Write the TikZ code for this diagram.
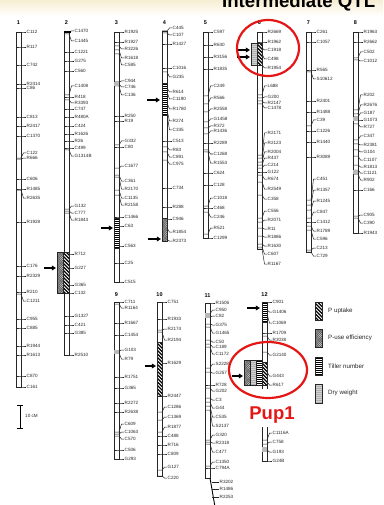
\documentclass[tikz,border=0pt]{standalone}
\usepackage{fontspec}
\setmainfont{Liberation Sans}
\usetikzlibrary{arrows.meta}

\definecolor{ringred}{RGB}{228,22,22}
\definecolor{haze}{RGB}{247,237,210}

\tikzset{
  chrline/.style={line width=0.5pt, draw=black!85},
  mklabel/.style={font=\fontsize{4.6}{5}\selectfont, anchor=west, inner sep=0pt, text=black!85},
  chrnum/.style={font=\bfseries\fontsize{5.5}{6}\selectfont, inner sep=0pt},
  qtlarrow/.style={line width=1.3pt, -{Triangle[length=4.2pt,width=4.8pt]}},
  redring/.style={draw=ringred, line width=2.2pt},
  legtext/.style={font=\fontsize{6.2}{7}\selectfont, anchor=west, inner sep=0pt, text=black!85},
}

% chromosome outline: name, left x, top y, bottom y, number, number y
\newcommand\chrom[6]{%
  \draw[chrline] (#2,#3) rectangle (#2+5,#4);
  \node[chrnum] (#1) at (#2+2.5,#6) {#5};}

% marker: left x, tick y, label y, text, node name
\newcommand\mk[5]{%
  \draw[chrline] (#1,#2) -- (#1+5,#2) -- (#1+7.5,#3) -- (#1+10,#3);
  \node[mklabel] (#5) at (#1+10.5,#3) {#4};}

% QTL boxes: x1, y1, x2, y2
\newcommand\boxpu[4]{% P uptake: heavy diagonal stripes
  \begin{scope}
    \clip (#1,#2) rectangle (#3,#4);
    \fill[white] (#1,#2) rectangle (#3,#4);
    \foreach \k in {-64,-60.5,...,12} \draw[line width=1.2pt] (#1+\k,#2) -- ++(70,70);
  \end{scope}
  \draw[chrline] (#1,#2) rectangle (#3,#4);}
\newcommand\boxpe[4]{% P-use efficiency: fine grey cross-hatch
  \begin{scope}
    \clip (#1,#2) rectangle (#3,#4);
    \fill[gray!30] (#1,#2) rectangle (#3,#4);
    \foreach \k in {-64,-62.2,...,12} \draw[gray!60!black,line width=0.3pt] (#1+\k,#2) -- ++(70,70);
    \foreach \k in {-6,-4.2,...,70} \draw[gray!60!black,line width=0.3pt] (#1+\k,#2) -- ++(-70,70);
  \end{scope}
  \draw[chrline] (#1,#2) rectangle (#3,#4);}
\newcommand\boxtn[4]{% tiller number: horizontal rules
  \begin{scope}
    \clip (#1,#2) rectangle (#3,#4);
    \fill[white] (#1,#2) rectangle (#3,#4);
    \foreach \k in {1,3,...,61} \draw[line width=0.45pt] (#1,#2+\k) -- (#3,#2+\k);
  \end{scope}
  \draw[chrline] (#1,#2) rectangle (#3,#4);}
\newcommand\boxdw[4]{% dry weight: dark grey with faint rules
  \begin{scope}
    \clip (#1,#2) rectangle (#3,#4);
    \fill[gray!62] (#1,#2) rectangle (#3,#4);
    \foreach \k in {1,3,...,61} \draw[gray!35,line width=0.4pt] (#1,#2+\k) -- (#3,#2+\k);
  \end{scope}
  \draw[chrline] (#1,#2) rectangle (#3,#4);}

\begin{document}
\begin{tikzpicture}[x=1pt,y=-1pt]
\useasboundingbox (0,0) rectangle (383,505);
\clip (0,0) rectangle (383,505);
\fill[white] (0,0) rectangle (383,505);
\shade[top color=haze, bottom color=white] (0,0) rectangle (383,16);

\node[font=\bfseries\fontsize{18.6}{20}\selectfont, anchor=base west, inner sep=0pt] (title) at (222,7.5) {Intermediate QTL};

% ---------------- chromosome 1
\chrom{n1}{16}{32}{387}{1}{23}
\foreach \ta/\la/\na in {32/32/C112, 47/47/R117, 65/65/C742, 84/84/R2414, 88/88/C86,
  117/117/C813, 126/126/R2417, 136/136/C1370, 158/153/C122, 159/158/R666, 179/179/C606,
  189/189/R1485, 190/198/R2635, 222/222/R1928, 266/266/C176, 276/276/R2329, 292/292/R210,
  294/301/C1211, 319/319/C955, 328/328/C885, 346/346/R1944, 355/355/R1613, 376/376/C870,
  387/387/C161}
  \mk{16}{\ta}{\la}{\na}{c1-\na};

% ---------------- chromosome 2
\chrom{n2}{64}{32}{355}{2}{23}
\foreach \ta/\la/\na in {32/31/C1470, 34/41/C1445, 52/52/C1221, 61/61/G275, 71/71/C560,
  95/86/C1408, 97/97/R418, 100/103/R3393, 109/109/C747, 117/117/R480A, 126/126/C424,
  134/134/R1626, 141/141/R26, 148/148/C499, 150/156/G1314B, 209/206/G132, 211/213/C777,
  213/220/R1843, 254/254/R712, 268/268/G227, 285/285/G365, 293/293/C132, 316/316/G1327,
  325/325/C421, 333/333/G385, 355/355/R2510}
  \mk{64}{\ta}{\la}{\na}{c2-\na};
\draw[line width=1.6pt] (64,32) -- (71,32);
\boxpe{57}{252}{63.5}{293}
\boxpu{63.5}{252}{69.5}{293}
\coordinate (a2s) at (44,268); \coordinate (a2e) at (56,268);
\draw[qtlarrow] (a2s) -- (a2e);

% ---------------- chromosome 3
\chrom{n3}{114}{32}{282}{3}{23}
\foreach \ta/\la/\na in {32/32/R1925, 42/42/R1927, 46/49/R3226, 50/58/R1618, 54/65/C585,
  82/81/C944, 84/87/C746, 86/95/C136, 116/116/R250, 121/121/R19, 145/141/G332, 147/147/C80,
  168/166/C1677, 175/181/C361, 177/189/R2170, 190/198/C1135, 195/205/R2158, 217/217/C1466,
  226/226/C63, 246/246/C563, 263/263/C25, 282/282/C515}
  \mk{114}{\ta}{\la}{\na}{c3-\na};
\fill[gray!55] (114,82) rectangle (119,86);
\boxtn{114}{218}{119}{248}
\coordinate (a3s) at (101,228); \coordinate (a3e) at (113,228);
\draw[qtlarrow] (a3s) -- (a3e);

% ---------------- chromosome 4
\chrom{n4}{162}{31}{241}{4}{23}
\foreach \ta/\la/\na in {31/28/C445, 33/35/C107, 44/44/R1427, 68/68/C1016, 72/77/G235,
  88/92/R614, 92/99/C1190, 103/109/R1780, 110/121/R274, 114/130/C335, 141/141/C513,
  147/150/R83, 152/157/C891, 160/164/C975, 188/188/C734, 207/207/R288, 219/219/C946,
  228/232/R1854, 240/241/R2373}
  \mk{162}{\ta}{\la}{\na}{c4-\na};
\boxtn{162}{83}{167}{115}
\boxpe{162}{218}{167}{241}
\coordinate (a4s) at (147,100); \coordinate (a4e) at (160,100);
\draw[qtlarrow] (a4s) -- (a4e);
\coordinate (a4t) at (148,239); \coordinate (a4u) at (161,239);
\draw[qtlarrow] (a4t) -- (a4u);

% ---------------- chromosome 5
\chrom{n5}{203}{32}{238}{5}{23}
\foreach \ta/\la/\na in {32/32/C597, 45/45/R630, 57/57/R3156, 69/69/R1835, 96/86/C249,
  104/98/R566, 112/109/R2558, 122/119/G1458, 128/126/R372, 134/131/R1436, 143/143/R2289,
  150/154/C1268, 152/163/R1553, 173/173/C624, 185/185/C128, 206/198/C1018, 208/208/C468,
  212/217/C246, 234/228/R521, 238/238/C1299}
  \mk{203}{\ta}{\la}{\na}{c5-\na};

% ---------------- chromosome 6
\chrom{n6}{257}{32}{249}{6}{23}
\foreach \ta/\la/\na in {32/32/R2669, 42/42/R1962, 48/50/C1918, 54/59/C498, 65/68/R1954,
  95/86/L688, 98/97/G200, 101/103/R2147, 104/108/C1478, 155/133/R2171, 158/143/R2123,
  162/152/R2004, 165/158/R437, 168/165/C214, 172/172/G122, 175/179/R674, 182/189/R2549,
  195/199/C358, 218/211/C556, 222/220/R2071, 228/229/R11, 236/237/R1886, 244/246/R1630,
  247/254/C607, 249/264/R1167}
  \mk{257}{\ta}{\la}{\na}{c6-\na};
\boxdw{251}{43}{257}{65}
\boxpu{257}{43}{262}{65}
\coordinate (a6s) at (237,50); \coordinate (a6e) at (250,50);
\draw[qtlarrow] (a6s) -- (a6e);
\coordinate (a6t) at (237,57); \coordinate (a6u) at (250,57);
\draw[qtlarrow] (a6t) -- (a6u);

% ---------------- chromosome 7
\chrom{n7}{306}{32}{252}{7}{23}
\foreach \ta/\la/\na in {32/32/C261, 42/42/C1057, 70/70/R565, 72/79/S10612, 101/101/R2401,
  112/112/R1488, 126/120/C39, 131/131/C1226, 142/142/R1440, 157/157/R3089, 200/179/C451,
  205/190/R1357, 210/201/R1245, 218/212/C847, 222/222/C1412, 226/231/R1789, 230/239/C596,
  250/248/C213, 252/256/C729}
  \mk{306}{\ta}{\la}{\na}{c7-\na};

% ---------------- chromosome 8
\chrom{n8}{353}{32}{233}{8}{23}
\foreach \ta/\la/\na in {32/32/R1963, 42/42/R2662, 58/52/C502, 60/61/C1012, 110/95/R202,
  114/105/R2676, 117/113/G187, 120/120/G1073, 124/127/R727, 140/136/C347, 144/145/R2381,
  150/152/G104, 156/160/C1107, 165/167/R1813, 170/173/C1121, 174/180/R902, 190/190/C166,
  216/215/C905, 218/223/C390, 233/233/R1943}
  \mk{353}{\ta}{\la}{\na}{c8-\na};
\fill[gray!55] (353,117) rectangle (358,121);
\fill[gray!55] (353,170) rectangle (358,174);

% ---------------- chromosome 9
\chrom{n9}{114}{302}{459}{9}{295}
\foreach \ta/\la/\na in {302/302/C711, 304/308/R1164, 323/323/R1667, 335/335/C1454,
  351/350/G103, 353/359/R79, 377/377/R1751, 388/388/G365, 403/403/R2272, 412/412/R2638,
  432/424/C609, 434/432/C1063, 436/439/C570, 450/450/C506, 459/459/G293}
  \mk{114}{\ta}{\la}{\na}{c9-\na};
\fill[gray!55] (114,350) rectangle (119,354);

% ---------------- chromosome 10
\chrom{n10}{157}{302}{476}{10}{295}
\foreach \ta/\la/\na in {302/302/C751, 319/319/R1933, 330/329/R2174, 332/340/R2194,
  363/363/R1629, 396/396/R2447, 412/407/C1286, 420/417/C1369, 432/427/R1877, 436/436/C488,
  445/445/R716, 454/454/C809, 470/467/G127, 476/478/C220}
  \mk{157}{\ta}{\la}{\na}{c10-\na};
\boxpu{157}{342}{162}{396}
\coordinate (a10s) at (145,366); \coordinate (a10e) at (156,366);
\draw[qtlarrow] (a10s) -- (a10e);

% ---------------- chromosome 11
\chrom{n11}{205}{303}{478}{11}{296}
\foreach \ta/\la/\na in {303/303/R1506, 314/310/C950, 317/316/C82, 324/325/G375,
  327/333/G1465, 340/342/C50, 344/347/C189, 347/354/C1172, 368/364/S2228, 372/373/G257,
  385/385/R728, 388/391/G202, 398/400/C3, 402/408/G44, 406/417/C535, 410/426/S2137,
  440/435/G320, 442/443/R2318, 444/452/C477, 466/462/C1350, 468/468/C794A}
  \mk{205}{\ta}{\la}{\na}{c11-\na};
\fill[gray!55] (205,313) rectangle (210,318);
\coordinate (t11a) at (210,478); \coordinate (t11b) at (215,507);
\draw[line width=0.9pt] (t11a) -- (t11b);
\foreach \ta/\la/\na in {482/482/R3202, 489/489/R1486, 497/497/R2253}
  {\draw[chrline] (212,\ta) -- (219,\la);
   \node[mklabel] (c11-\na) at (219.5,\la) {\na};}

% ---------------- chromosome 12
\chrom{n12}{262}{302}{461}{12}{295}
\foreach \ta/\la/\na in {302/302/C901, 310/312/G1406, 314/323/C1069, 333/333/R1709,
  336/340/R3038, 352/355/G2140, 372/376/G443, 382/385/R617, 440/433/C1116A,
  444/442/C758, 450/452/G193, 461/461/G24B}
  \mk{262}{\ta}{\la}{\na}{c12-\na};
\fill[gray!55] (262,447) rectangle (267,452);
\boxtn{262}{302}{267}{322}
\coordinate (a12s) at (247,308); \coordinate (a12e) at (260,308);
\draw[qtlarrow] (a12s) -- (a12e);
\boxpe{244}{360}{250}{385}
\boxdw{250}{360}{256}{385}
\boxtn{256}{360}{262}{385}
\boxpu{262}{362}{267}{385}
\coordinate (a12t) at (232,376); \coordinate (a12u) at (243,376);
\draw[qtlarrow] (a12t) -- (a12u);

% ---------------- highlights
\fill[white] (250,389) rectangle (300,427);
\draw[redring] (268,48) ellipse [x radius=31, y radius=28];
\draw[redring] (268,370) ellipse [x radius=39, y radius=28];
\node[font=\bfseries\fontsize{18.5}{20}\selectfont, text=ringred, anchor=base, inner sep=0pt] (pup1) at (272,419) {Pup1};

% ---------------- legend
\boxpu{315}{302}{322}{320}
\node[legtext] (lg1) at (328,311) {P uptake};
\boxpe{315}{329}{322}{347}
\node[legtext] (lg2) at (328,338) {P-use efficiency};
\boxtn{315}{357}{322}{375}
\node[legtext] (lg3) at (328,366) {Tiller number};
\boxdw{315}{384}{322}{403}
\node[legtext] (lg4) at (328,393) {Dry weight};

% ---------------- scale bar
\coordinate (sb1) at (20,405); \coordinate (sb2) at (20,428);
\draw[line width=0.7pt] (sb1) -- (sb2);
\draw[line width=0.6pt] (17,405) -- (23,405) (17,428) -- (23,428);
\node[mklabel] (sbl) at (25,416) {10 cM};
\end{tikzpicture}
\end{document}
